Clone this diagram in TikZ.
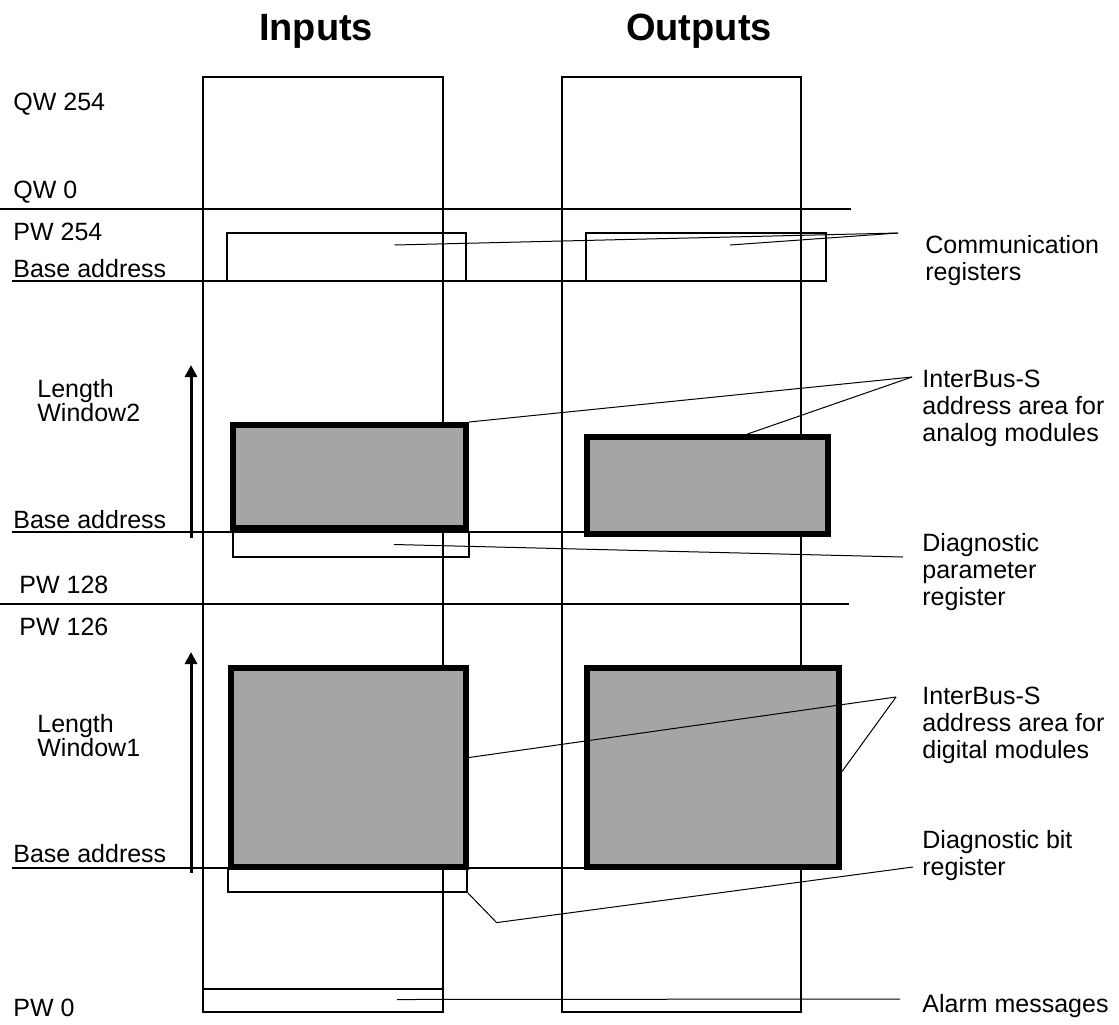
\documentclass[tikz,border=0pt]{standalone}
\usepackage{fontspec}
\setmainfont{Liberation Sans}
\usepackage{tikz}
\definecolor{areagray}{RGB}{165,165,165}
\usetikzlibrary{arrows.meta, positioning, calc, fit}

\begin{document}
\begin{tikzpicture}[
    x=0.5pt, y=-0.5pt,
    column/.style={draw, line width=0.6pt, inner sep=0pt},
    regbox/.style={draw, line width=0.6pt, inner sep=0pt},
    areabox/.style={draw, line width=3pt, fill=areagray, inner sep=0pt},
    leader/.style={line width=0.5pt},
    divider/.style={line width=0.6pt},
    window/.style={-{Triangle[length=6pt, width=6pt]}, line width=1.5pt},
    lbl/.style={font=\fontsize{12.5}{13.5}\selectfont, inner sep=0pt, anchor=base west},
    note/.style={font=\fontsize{12.5}{13.5}\selectfont, inner sep=0pt, anchor=north west, align=left},
    title/.style={font=\fontsize{19}{22}\selectfont\bfseries, inner sep=0pt, anchor=base}
]
    \useasboundingbox (0,0) rectangle (1119,1024);

    % Titles
    \node[title] (tin) at (316,40) {Inputs};
    \node[title] (tout) at (699,40) {Outputs};

    % Columns
    \node[column, fit={(203,77) (443,1012)}] (incol) {};
    \node[column, fit={(562,77) (801,1012)}] (outcol) {};

    % Address limits
    \draw[divider] (0,209) -- (851,209);
    \draw[divider] (0,604) -- (849,604);
    \draw[divider] (12,281) -- (586,281);
    \draw[divider] (12,532) -- (584,532);
    \draw[divider] (12,868) -- (584,868);

    % Communication registers
    \node[regbox, fit={(227,233) (466,281)}] (incomm) {};
    \node[regbox, fit={(586,233) (826,281)}] (outcomm) {};

    % Analog areas
    \node[areabox, fit={(233,425) (466,528)}] (inana) {};
    \node[areabox, fit={(587,437) (828,534)}] (outana) {};
    \node[regbox, fit={(233,532) (469,557)}] (dparam) {};

    % Digital areas
    \node[areabox, fit={(231,668) (466,867)}] (indig) {};
    \node[areabox, fit={(587,668) (839,867)}] (outdig) {};
    \node[regbox, fit={(228,868) (467,892)}] (dbit) {};

    % Alarm messages
    \node[regbox, fit={(203,989) (443,1012)}] (alarm) {};

    % Windows
    \coordinate (win2lo) at (191,538);
    \coordinate (win2hi) at (191,365);
    \coordinate (win1lo) at (191,873);
    \coordinate (win1hi) at (191,652);
    \draw[window] (win2lo) -- (win2hi);
    \draw[window] (win1lo) -- (win1hi);

    % Left labels
    \node[lbl] (qwtop) at (13,110) {QW 254};
    \node[lbl] (qwbot) at (13,198) {QW 0};
    \node[lbl] (pwtop) at (13,240) {PW 254};
    \node[lbl] (basecomm) at (13,277) {Base address};
    \node[note, font=\fontsize{12.5}{12}\selectfont] (len2) at (37,379) {Length\\Window2};
    \node[lbl] (basew2) at (13,528) {Base address};
    \node[lbl] (pwmid) at (19,593) {PW 128};
    \node[lbl] (pwlow) at (19,635) {PW 126};
    \node[note, font=\fontsize{12.5}{12}\selectfont] (len1) at (37,714) {Length\\Window1};
    \node[lbl] (basew1) at (13,862) {Base address};
    \node[lbl] (pwzero) at (13,1016) {PW 0};

    % Right labels
    \node[note] (lcomm) at (925,235) {Communication\\registers};
    \node[note] (lana) at (922,370) {InterBus-S\\address area for\\analog modules};
    \node[note] (lparam) at (922,533) {Diagnostic\\parameter\\register};
    \node[note] (ldig) at (922,687) {InterBus-S\\address area for\\digital modules};
    \node[note] (lbit) at (922,830) {Diagnostic bit\\register};
    \node[lbl] (lalarm) at (922,1012) {Alarm messages};

    % Leaders
    \coordinate (commtip) at (898,233);
    \coordinate (anatip) at (912,377);
    \coordinate (paramtip) at (903,557);
    \coordinate (digtip) at (896,697);
    \coordinate (bittip) at (913,867);
    \coordinate (alarmtip) at (900,999);
    \draw[leader] ($(incomm.center)+(48,-12)$) -- (commtip);
    \draw[leader] ($(outcomm.center)+(24,-12)$) -- (commtip);
    \draw[leader] (inana.north east) -- (anatip);
    \draw[leader] ($(outana.north)+(40,0)$) -- (anatip);
    \draw[leader] ($(dparam.center)+(43,0)$) -- (paramtip);
    \draw[leader] ($(indig.east)+(0,-10)$) -- (digtip);
    \draw[leader] ($(outdig.east)+(0,4)$) -- (digtip);
    \draw[leader] (dbit.south east) -- ++(29,30) -- (bittip);
    \draw[leader] ($(alarm.center)+(74,-1)$) -- (alarmtip);
\end{tikzpicture}
\end{document}
